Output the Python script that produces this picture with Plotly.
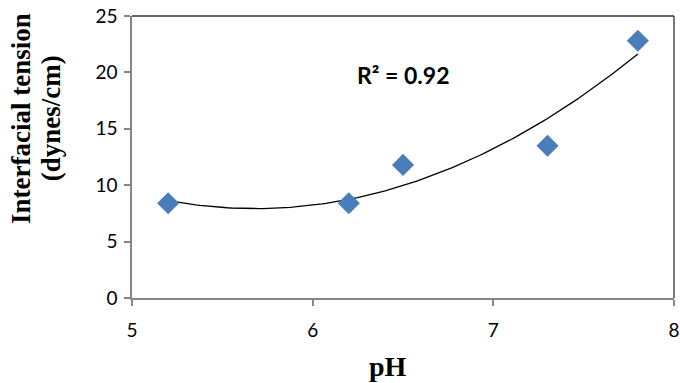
import numpy as np
import plotly.graph_objects as go

ph = [5.2, 6.2, 6.5, 7.3, 7.8]
tension = [8.4, 8.4, 11.8, 13.5, 22.8]
x_ticks = [5, 6, 7, 8]
y_ticks = [0, 5, 10, 15, 20, 25]

coef = np.polyfit(ph, tension, 2)
xs = np.linspace(min(ph), max(ph), 120)
ys = np.polyval(coef, xs)

fig = go.Figure()
fig.add_trace(go.Scatter(x=xs, y=ys, mode="lines",
                         line=dict(color="black", width=1.3), showlegend=False))
fig.add_trace(go.Scatter(x=ph, y=tension, mode="markers",
                         marker=dict(symbol="diamond", size=17, color="#4A7EBB"),
                         showlegend=False, cliponaxis=False))

axis_font = dict(family="Lato, Open Sans, sans-serif", size=19, color="black")
fig.update_xaxes(range=[5, 8], tickvals=x_ticks, showgrid=False, zeroline=False,
                 showline=True, linecolor="#868686", linewidth=1.5, automargin=False,
                 ticks="outside", ticklen=6, tickcolor="#868686", tickwidth=1.5,
                 tickfont=axis_font, ticklabelstandoff=8, ticklabeloverflow="allow")
fig.update_yaxes(range=[0, 25], tickvals=y_ticks, showgrid=False, zeroline=False,
                 showline=True, linecolor="#868686", linewidth=1.5, automargin=False,
                 ticks="outside", ticklen=6, tickcolor="#868686", tickwidth=1.5,
                 tickfont=axis_font, ticklabelstandoff=3, ticklabeloverflow="allow")

fig.add_shape(type="line", xref="paper", yref="paper", x0=0, x1=1, y0=1, y1=1,
              line=dict(color="#303030", width=1.3))
fig.add_shape(type="line", xref="paper", yref="paper", x0=1, x1=1, y0=0, y1=1,
              line=dict(color="#303030", width=1.3))

fig.add_annotation(text="R² = 0.92", x=6.5, y=19.8, xref="x", yref="y", showarrow=False,
                   xanchor="center", yanchor="middle",
                   font=dict(family="Lato, Open Sans, sans-serif", size=23, color="black", weight="bold"))
fig.add_annotation(text="pH", x=0.473, y=-0.243, xref="paper", yref="paper", showarrow=False,
                   xanchor="center", yanchor="middle",
                   font=dict(family="Liberation Serif, serif", size=28, color="black", weight="bold"))
fig.add_annotation(text="Interfacial tension", x=-0.205, y=0.638, xref="paper", yref="paper",
                   showarrow=False, textangle=-90, xanchor="center", yanchor="middle",
                   font=dict(family="Liberation Serif, serif", size=27, color="black", weight="bold"))
fig.add_annotation(text="(dynes/cm)", x=-0.149, y=0.638, xref="paper", yref="paper",
                   showarrow=False, textangle=-90, xanchor="center", yanchor="middle",
                   font=dict(family="Liberation Serif, serif", size=27, color="black", weight="bold"))

fig.update_layout(width=680, height=383, margin=dict(l=132, r=6, t=16, b=85),
                  plot_bgcolor="white", paper_bgcolor="white")
fig.write_html("out.html", config={"displayModeBar": False})

with open("out.html", encoding="utf-8") as f:
    html = f.read()
html = html.replace("<head>", "<head><style>html,body{margin:0;padding:0;overflow:hidden;}</style>", 1)
with open("out.html", "w", encoding="utf-8") as f:
    f.write(html)
